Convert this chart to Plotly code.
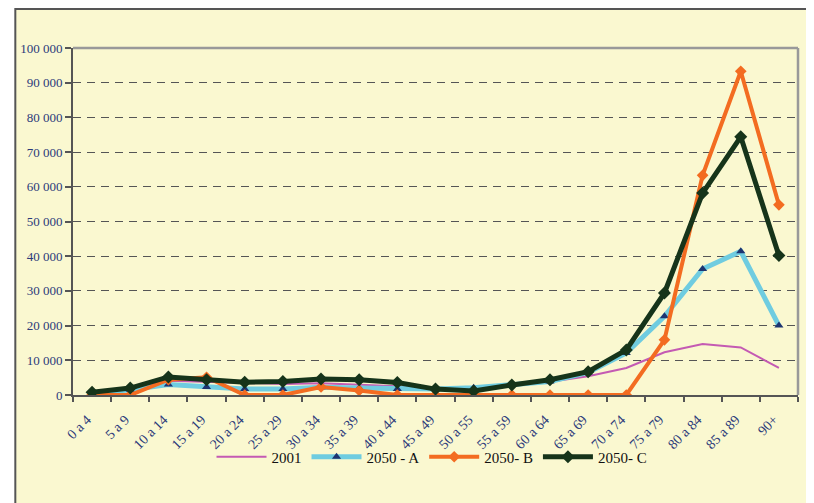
import plotly.graph_objects as go

categories = ["0 a 4", "5 a 9", "10 a 14", "15 a 19", "20 a 24", "25 a 29", "30 a 34",
              "35 a 39", "40 a 44", "45 a 49", "50 a 55", "55 a 59", "60 a 64", "65 a 69",
              "70 a 74", "75 a 79", "80 a 84", "85 a 89", "90+"]

s2001 = [800, 1600, 4100, 3800, 3300, 3200, 3400, 3000, 2500, 1800, 2000, 2600, 3800,
         5400, 7800, 12300, 14700, 13700, 7800]
s2050a = [500, 1500, 3000, 2300, 1700, 1700, 2200, 2000, 1700, 1700, 2100, 2900, 3900,
          6500, 12100, 22700, 36300, 41400, 20000]
s2050b = [0, 0, 4400, 5100, 0, 0, 2300, 1300, 0, 0, 0, 0, 0,
          0, 0, 15900, 63300, 93300, 54800]
s2050c = [800, 2000, 5200, 4400, 3700, 3900, 4600, 4400, 3600, 1700, 1150, 2900, 4400,
          6700, 13000, 29400, 58200, 74400, 40200]

bg = "#FAF8D0"
tickcol = "#2B3A7A"

W, H = 806, 495
L, R, T, B = 61, 16, 40, 108
PW, PH = W - L - R, H - T - B

fig = go.Figure()
fig.add_trace(go.Scatter(x=categories, y=s2001, name="2001", mode="lines",
                         line=dict(color="#C45AB3", width=2)))
fig.add_trace(go.Scatter(x=categories, y=s2050a, name="2050 - A", mode="lines+markers",
                         line=dict(color="#6FCCE0", width=5),
                         marker=dict(symbol="triangle-up", size=8, color="#1D3470")))
fig.add_trace(go.Scatter(x=categories, y=s2050b, name="2050- B", mode="lines+markers",
                         line=dict(color="#F36C21", width=4),
                         marker=dict(symbol="diamond", size=9, color="#F36C21")))
fig.add_trace(go.Scatter(x=categories, y=s2050c, name="2050- C", mode="lines+markers",
                         line=dict(color="#16341A", width=5),
                         marker=dict(symbol="diamond", size=10, color="#16341A")))

fig.update_layout(
    width=W, height=H,
    margin=dict(l=L, r=R, t=T, b=B),
    paper_bgcolor="white",
    plot_bgcolor=bg,
    separators=", ",
    font=dict(family="Liberation Serif", color=tickcol, size=13),
    showlegend=True,
    legend=dict(orientation="h", x=(422 - L) / PW, y=-62 / PH, xanchor="center",
                yanchor="middle",
                font=dict(family="Liberation Serif", size=15, color="#111111"),
                bgcolor="rgba(0,0,0,0)", itemwidth=50, traceorder="normal"),
    shapes=[
        dict(type="rect", xref="paper", yref="paper", x0=(3 - L) / PW, x1=1.2,
             y0=-0.5, y1=1 + 39 / PH, fillcolor=bg,
             line=dict(color="#555555", width=2), layer="below"),
        dict(type="line", xref="paper", yref="paper", x0=0, x1=1, y0=1, y1=1,
             line=dict(color="#999999", width=2.5)),
        dict(type="line", xref="paper", yref="paper", x0=1, x1=1, y0=0, y1=1,
             line=dict(color="#999999", width=2.5)),
    ],
)

fig.update_xaxes(
    type="category", showgrid=False, showline=True, linecolor="#555555", linewidth=2,
    ticks="outside", tickson="boundaries", ticklen=5, tickcolor="#555555", tickwidth=1.5,
    tickangle=-45, tickfont=dict(family="Liberation Serif", size=14, color=tickcol),
    ticklabelstandoff=9, ticklabelshift=-5,
    range=[-0.5, 18.5],
)
fig.update_yaxes(
    range=[0, 100000], dtick=10000, tickformat=",d",
    showgrid=True, gridcolor="#555555", griddash="8px,6px", gridwidth=1,
    zeroline=False, showline=True, linecolor="#555555", linewidth=2,
    ticks="outside", ticklen=6, tickcolor="#555555", tickwidth=1.5,
    tickfont=dict(family="Liberation Serif", size=13, color=tickcol),
)

fig.write_html("out.html")
